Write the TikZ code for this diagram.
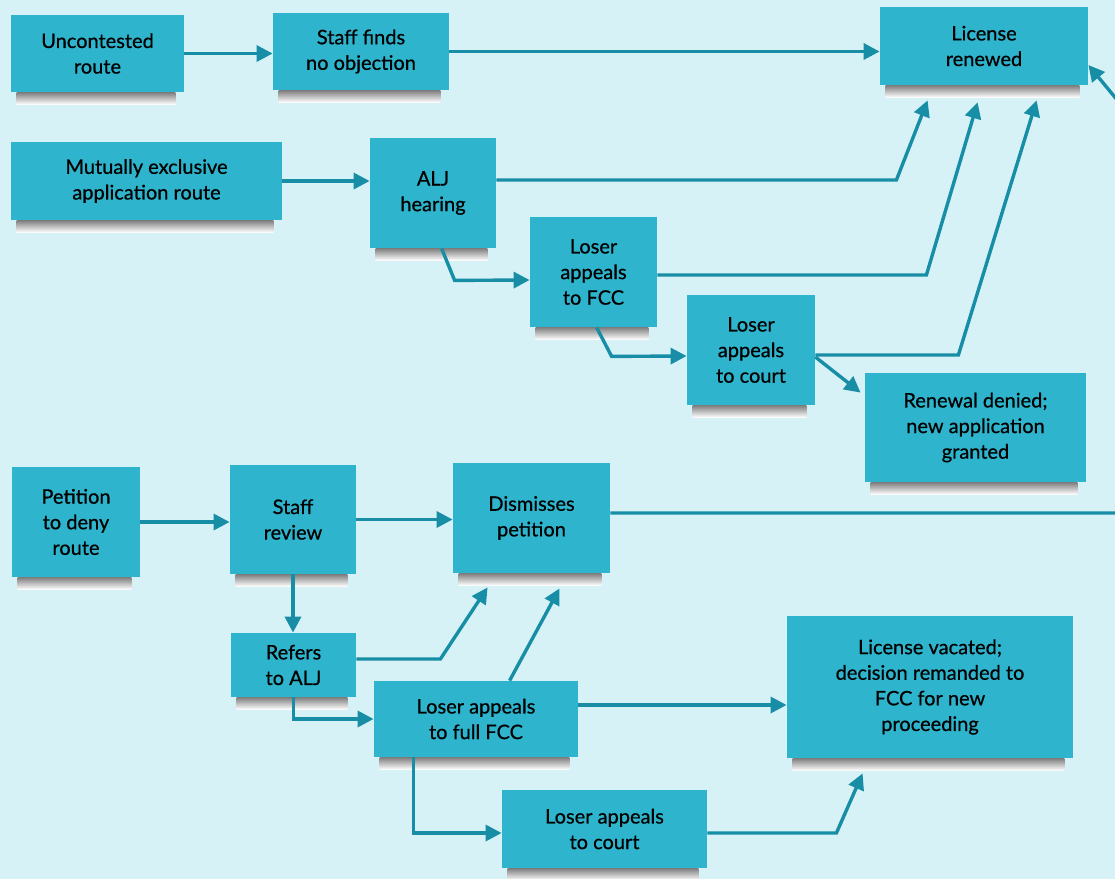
\documentclass[tikz,border=0pt]{standalone}
\usepackage{fontspec}
\setmainfont{Lato}
\usetikzlibrary{positioning,arrows.meta}
\definecolor{paper}{RGB}{214,242,246}
\definecolor{boxteal}{RGB}{46,180,204}
\definecolor{shade}{RGB}{160,160,172}
\definecolor{linkteal}{RGB}{24,142,166}
\tikzset{
	stage/.style={fill=boxteal,inner sep=2pt,align=center,font=\fontsize{10}{12.8}\selectfont\addfontfeatures{FakeBold=0.6}},
	link/.style={draw=linkteal,line width=1.7pt,-{Triangle[length=8pt,width=8pt]}}
}

\begin{document}
\begin{tikzpicture}[x=0.5pt,y=-0.5pt]
		\fill[paper](0,0) rectangle (1115,879);
		\useasboundingbox (0,0) rectangle (1115,879);
		% stages
		\node[stage,minimum width=86.5pt,minimum height=38.5pt](unc) at (97.5,53.5){Uncontested\\route};
		\node[stage,minimum width=88pt,minimum height=38.5pt](staffno) at (361,51.5){Staff finds\\no objection};
		\node[stage,minimum width=104pt,minimum height=39pt](renewed) at (984,46){License\\renewed};
		\node[stage,minimum width=135.5pt,minimum height=39pt](mutual) at (146.5,181){Mutually exclusive\\application route};
		\node[stage,minimum width=63pt,minimum height=55pt](alj) at (433,193){ALJ\\hearing};
		\node[stage,minimum width=63.5pt,minimum height=55pt](lfcc) at (593.5,272){Loser\\appeals\\to FCC};
		\node[stage,minimum width=64pt,minimum height=55pt](lcourt) at (751,350){Loser\\appeals\\to court};
		\node[stage,minimum width=110.5pt,minimum height=54.5pt](denied) at (975.5,427.5){Renewal denied;\\new application\\granted};
		\node[stage,minimum width=64pt,minimum height=55pt](petition) at (76,522){Petition\\to deny\\route};
		\node[stage,minimum width=63pt,minimum height=54.5pt](review) at (293,519.5){Staff\\review};
		\node[stage,minimum width=78.5pt,minimum height=55pt](dismiss) at (531.5,518){Dismisses\\petition};
		\node[stage,minimum width=62.5pt,minimum height=32pt](refers) at (293.5,665){Refers\\to ALJ};
		\node[stage,minimum width=102pt,minimum height=38pt](fullfcc) at (476,719){Loser appeals\\to full FCC};
		\node[stage,minimum width=143pt,minimum height=71pt](vacated) at (930,687){License vacated;\\decision remanded to\\FCC for new\\proceeding};
		\node[stage,minimum width=102.5pt,minimum height=39pt](court2) at (604.5,829){Loser appeals\\to court};
		% shadows under the boxes
		\foreach \n in{unc,staffno,renewed,mutual,alj,lfcc,lcourt,denied,petition,review,dismiss,refers,fullfcc,vacated,court2}
		\fill[shade]([xshift=3pt]\n.south west) rectangle ([xshift=-4.5pt,yshift=-6pt]\n.south east);
		% renewal routes
		\draw[link](unc.east)--(unc.east -| staffno.west);
		\draw[link](staffno.east)--(staffno.east -| renewed.west);
		\draw[link](mutual.east)--(mutual.east -| alj.west);
		\draw[link]([yshift=6.5pt]alj.east)--++(400,0)--([xshift=24pt,yshift=-7.5pt]renewed.south west);
		\draw[link]([yshift=-1.5pt]lfcc.east)--++(269,0)--([xshift=49pt,yshift=-8.5pt]renewed.south west);
		\draw[link]([yshift=-2.5pt]lcourt.east)--++(143,0)--([xshift=78.5pt,yshift=-7.5pt]renewed.south west);
		\draw[link]([xshift=36pt]alj.south west)--++(13,32)--([yshift=-4pt]lfcc.west);
		\draw[link]([xshift=33.5pt]lfcc.south west)--++(15,29)--([yshift=-3pt]lcourt.west);
		\draw[link]([yshift=-3.5pt]lcourt.east)--([xshift=-2pt,yshift=-10pt]denied.north west);
		% petition to deny
		\draw[link](petition.east)--(petition.east -| review.west);
		\draw[link](review.east)--(review.east -| dismiss.west);
		\draw[link](review.south)--(review.south |- refers.north);
		\draw[link]([yshift=2.5pt]dismiss.east)--++(515,0)--++(0,-403)--([yshift=-9.5pt]renewed.east);
		\draw[link]([yshift=3pt]refers.east)--++(84,0)--([xshift=17.5pt,yshift=-7pt]dismiss.south west);
		\draw[link]([xshift=68pt]fullfcc.north west)--([xshift=53.5pt,yshift=-7.5pt]dismiss.south west);
		\draw[link](refers.south)|-(fullfcc.west);
		\draw[link]([yshift=7pt]fullfcc.east)--([yshift=7pt]fullfcc.east -| vacated.west);
		\draw[link]([xshift=20pt]fullfcc.south west)|-([yshift=-2pt]court2.west);
		\draw[link]([yshift=-2pt]court2.east)--++(129,0)--([xshift=38pt,yshift=-7.5pt]vacated.south west);
	\end{tikzpicture}
\end{document}
